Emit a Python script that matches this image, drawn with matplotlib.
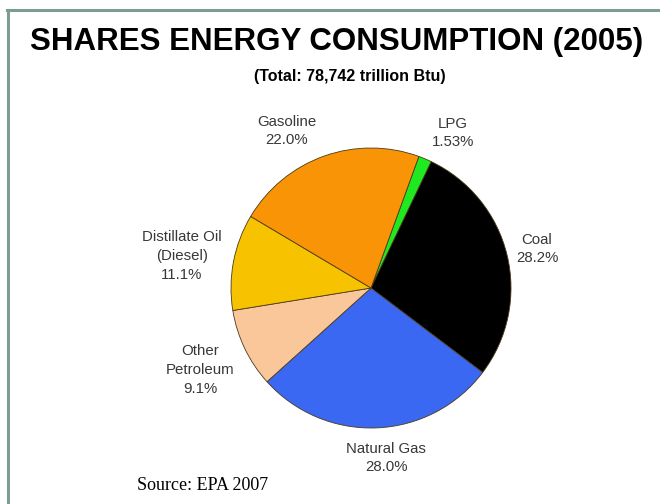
import matplotlib.pyplot as plt
from matplotlib.lines import Line2D
from matplotlib.transforms import Bbox

# energy shares, clockwise from LPG
sources = ['LPG', 'Coal', 'Natural Gas', 'Other\nPetroleum',
           'Distillate Oil\n(Diesel)', 'Gasoline']
shares = [1.53, 28.2, 28.0, 9.1, 11.1, 22.0]
share_labels = ['1.53%', '28.2%', '28.0%', '9.1%', '11.1%', '22.0%']
colors = ['#1FEA1F', '#000000', '#3A68F2', '#F9C79A', '#F7C200', '#F99407']

W, H = 660, 504
fig = plt.figure(figsize=(W / 100, H / 100), dpi=100)


def px(x, y):
    # pixel position (from top-left) -> figure fraction
    return x / W, 1 - y / H


# frame lines along top and left
border = '#7C9E91'
fig.add_artist(Line2D([7 / W, 1], [1 - 10 / H] * 2, color=border, lw=2.2,
                      transform=fig.transFigure))
fig.add_artist(Line2D([8 / W] * 2, [0, 1 - 10 / H], color=border, lw=2.2,
                      transform=fig.transFigure))

fig.text(*px(337, 42), 'SHARES ENERGY CONSUMPTION (2005)', ha='center',
         va='center', fontsize=22.5, fontweight='bold', family='Liberation Sans')
fig.text(*px(350, 77), '(Total: 78,742 trillion Btu)', ha='center',
         va='center', fontsize=11.5, fontweight='bold', family='Liberation Sans')

# pie: centre (371, 288), radius 140 px
cx, cy, r = 371, 288, 140
ax = fig.add_axes([(cx - r) / W, (H - cy - r) / H, 2 * r / W, 2 * r / H])
ax.pie(shares, colors=colors, startangle=70, counterclock=False,
       wedgeprops=dict(edgecolor='#4a3a1a', linewidth=0.6))
ax.set_xlim(-1, 1)
ax.set_ylim(-1, 1)
ax.set_aspect('equal')
ax.axis('off')

label_pos = [(453, 133), (537, 249), (386, 458), (200, 370), (182, 256), (287, 131)]
clip = Bbox.from_extents(0, 0, 559, H)
for name, pct, (x, y) in zip(sources, share_labels, label_pos):
    t = fig.text(*px(x, y), name + '\n' + pct, ha='center', va='center',
                 fontsize=10.8, color='#383838', family='Liberation Sans',
                 linespacing=1.45)
    t.set_clip_box(clip)
    t.set_clip_on(True)

fig.text(*px(137, 485), 'Source: EPA 2007', ha='left', va='center',
         fontsize=13, family='Liberation Serif')

fig.savefig('out.png', dpi=100)
